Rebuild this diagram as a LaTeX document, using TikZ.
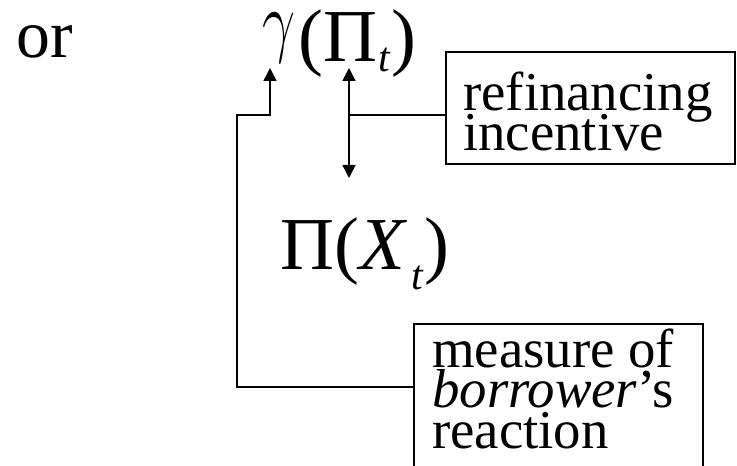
\documentclass[tikz,border=0pt]{standalone}
\usepackage{fontspec}
\setmainfont{Liberation Serif}
\usetikzlibrary{arrows.meta}
\tikzset{
  conn/.style={line width=1.6bp, draw=black},
  tip/.style={-{Triangle[length=13bp,width=13bp]}},
  dtip/.style={{Triangle[length=13bp,width=13bp]}-{Triangle[length=13bp,width=13bp]}},
  box/.style={draw, line width=1.6bp, inner sep=0pt, anchor=north west},
  txt/.style={anchor=base west, inner sep=0pt, font=\fontsize{55}{40}\selectfont},
  mth/.style={anchor=base west, inner sep=0pt, font=\fontsize{75}{75}\selectfont},
}
\newcommand{\mysub}[2]{\raisebox{-#2}{\fontsize{42}{42}\selectfont\itshape #1}}
\newcommand{\mygamma}{\raisebox{14bp}{\resizebox*{33bp}{50bp}{$\gamma$}}}
\begin{document}
\begin{tikzpicture}[x=1bp,y=-1bp]
\useasboundingbox (0,0) rectangle (737,466);
\clip (0,0) rectangle (737,466);
% texts
\node[anchor=base west, inner sep=0pt, font=\fontsize{68}{68}\selectfont] (or) at (16,58) {or};
\node[mth] (g) at (262,62) {\mygamma\hspace{3bp}(Π\hspace{1bp}\mysub{t}{10bp}\hspace{2bp})};
\node[mth] (px) at (280,270) {Π(\textit{X}\hspace{4bp}\mysub{t}{20bp}\hspace{2bp})};
% boxes
\node[box, minimum width=289bp, minimum height=112bp] (ref) at (445,51) {};
\node[txt] (reft) at (463,111) {refinancing};
\node[txt] (reft2) at (463,151) {incentive};
\node[box, minimum width=289bp, minimum height=170bp] (meas) at (413,323) {};
\node[txt] (meast) at (432,368) {measure of};
\node[txt] (meast2) at (432,407) {\textit{borrower}’s};
\node[txt] (meast3) at (432,448) {reaction};
% connector coordinates
\coordinate (gt) at (270,68);
\coordinate (pt1) at (349,68);
\coordinate (pt2) at (349,178);
\coordinate (jr) at (349,115);
\coordinate (bend) at (237,115);
\coordinate (mj) at (413,387);
% connectors
\draw[conn, dtip] (pt1) -- (pt2);
\draw[conn] (jr) -- (ref.west |- jr);
\draw[conn, tip] (meas.west |- mj) -| (bend) -| (gt);
\end{tikzpicture}
\end{document}
